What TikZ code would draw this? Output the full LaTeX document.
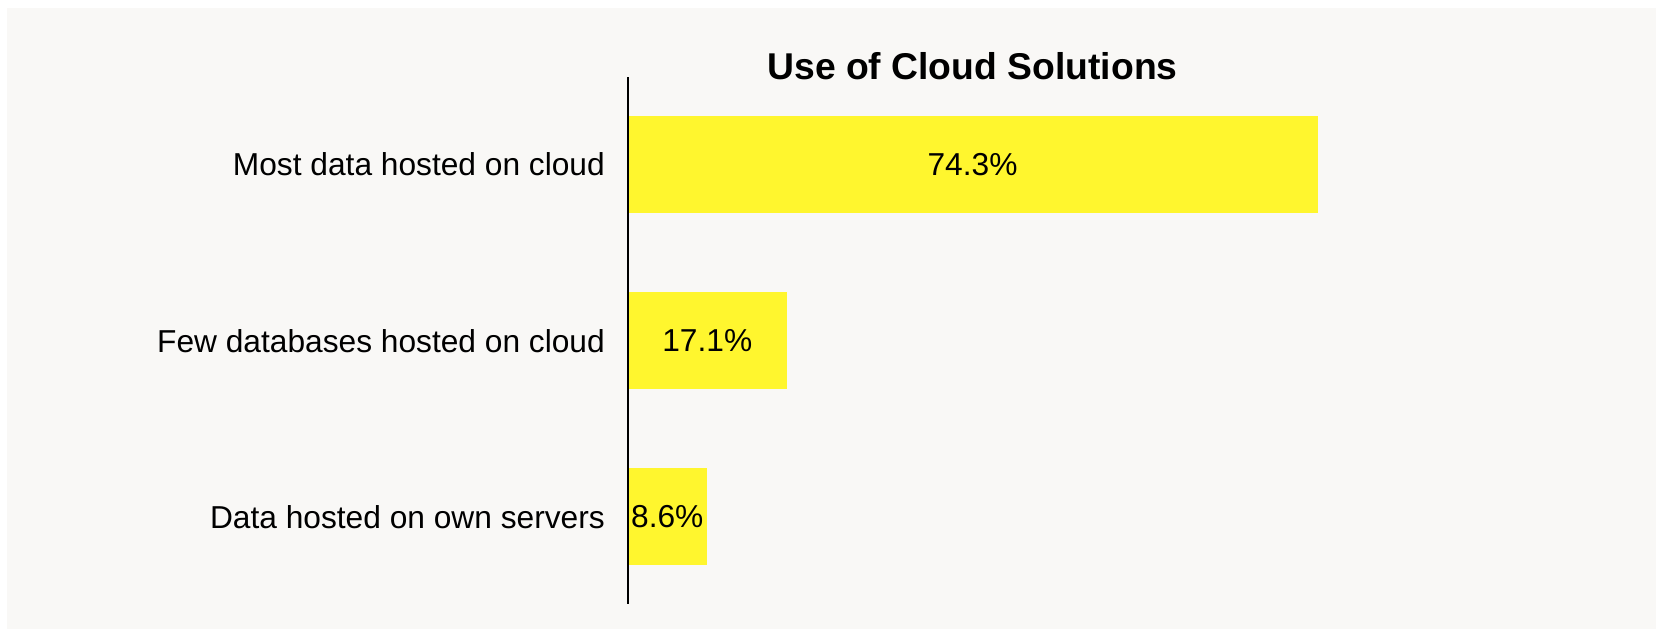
\documentclass[tikz,border=0pt]{standalone}
\usepackage{fontspec}
\setmainfont{Liberation Sans}
\definecolor{bgc}{HTML}{F9F8F6}
\definecolor{baryellow}{HTML}{FFF62E}
\begin{document}
\begin{tikzpicture}[x=1pt,y=1pt,
  bar/.style={fill=baryellow, draw=none, anchor=west, inner sep=0pt, outer sep=0pt,
    minimum height=97.5pt, font=\fontsize{31.7}{38}\selectfont},
  catlabel/.style={anchor=east, inner sep=0pt, font=\fontsize{31.7}{38}\selectfont},
  titlestyle/.style={inner sep=0pt, font=\fontsize{37.3}{45}\selectfont\bfseries}]
\useasboundingbox (0,0) rectangle (1656,-629);
\fill[bgc] (7,-8) rectangle (1656,-629);
\node[titlestyle] (title) at (972.5,-66.5) {Use of Cloud Solutions};
\node[bar, minimum width=690pt] (b1) at (627.5,-164.5) {74.3\%};
\node[bar, minimum width=159.5pt] (b2) at (627.5,-340.7) {17.1\%};
\node[bar, minimum width=79.5pt] (b3) at (627.5,-516.7) {8.6\%};
\node[catlabel] (l1) at (605,-164.5) {Most data hosted on cloud};
\node[catlabel] (l2) at (605,-340.7) {Few databases hosted on cloud};
\node[catlabel] (l3) at (605,-516.7) {Data hosted on own servers};
\draw[line width=2pt, black] (627.5,-77) -- (627.5,-603.5);
\end{tikzpicture}
\end{document}
